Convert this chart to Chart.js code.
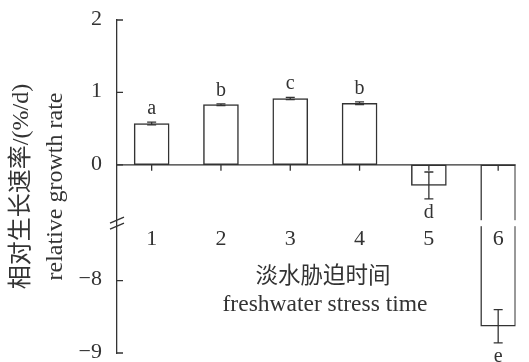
<!DOCTYPE html>
<html>
<head>
<meta charset="utf-8">
<script src="https://cdn.jsdelivr.net/npm/chart.js@4.4.0/dist/chart.umd.min.js"></script>
<style>
  html, body { margin: 0; padding: 0; background: #fff; overflow: hidden; }
  #wrap { width: 529px; height: 362px; }
</style>
</head>
<body>
<div id="wrap"><canvas id="c"></canvas></div>
<script>
// ── Data ─────────────────────────────────────────────────
const categories   = ['1', '2', '3', '4', '5', '6'];
const growthRate   = [0.57, 0.83, 0.915, 0.85, -0.285, -8.63];
const growthErr    = [0.02, 0.012, 0.015, 0.02, 0.185, 0.23];
const groupLetters = ['a', 'b', 'c', 'b', 'd', 'e'];
const yTickValues  = [2, 1, 0, -8, -9];
const yTickLabels  = ['2', '1', '0', '−8', '−9'];

// broken y axis: everything below the break is shifted up by SHIFT
const SHIFT = 6.4;
const BREAK_AT = -0.807;
const toV = v => (v < -4 ? v + SHIFT : v);

const INK = '#333';
const SERIF = "'Liberation Serif', 'Noto Sans CJK SC', serif";

const extras = {
    id: 'extras',
    afterDatasetsDraw(chart) {
        const { ctx, scales: { x, y } } = chart;
        const bars = chart.getDatasetMeta(0).data;
        const y0 = y.getPixelForValue(0);
        ctx.save();
        ctx.strokeStyle = INK;
        ctx.fillStyle = INK;
        ctx.lineWidth = 1.3;

        // zero line + tick marks
        ctx.beginPath();
        ctx.moveTo(x.left, y0);
        ctx.lineTo(bars[bars.length - 1].x + bars[0].width / 2, y0);
        bars.forEach(b => { ctx.moveTo(b.x, y0); ctx.lineTo(b.x, y0 + 6); });
        ctx.stroke();

        // gap in bar 6 at the break
        const yb = y.getPixelForValue(BREAK_AT);
        const b6 = bars[5];
        ctx.fillStyle = '#fff';
        ctx.fillRect(b6.x - b6.width / 2 - 3, yb - 3, b6.width + 6, 6);
        ctx.fillStyle = INK;

        // error bars + letters
        ctx.font = '20px ' + SERIF;
        ctx.textAlign = 'center';
        growthRate.forEach((v, i) => {
            const b = bars[i];
            const hi = y.getPixelForValue(toV(v + growthErr[i]));
            const lo = y.getPixelForValue(toV(v - growthErr[i]));
            ctx.beginPath();
            ctx.moveTo(b.x, hi); ctx.lineTo(b.x, lo);
            ctx.moveTo(b.x - 4.5, hi); ctx.lineTo(b.x + 4.5, hi);
            ctx.moveTo(b.x - 4.5, lo); ctx.lineTo(b.x + 4.5, lo);
            ctx.stroke();
            ctx.textBaseline = 'alphabetic';
            if (v >= 0) ctx.fillText(groupLetters[i], b.x, hi - 8);
            else ctx.fillText(groupLetters[i], b.x, lo + 19);
        });

        // x tick labels
        ctx.font = '22px ' + SERIF;
        categories.forEach((c, i) => ctx.fillText(c, bars[i].x, 245));

        // x title
        ctx.font = "22.5px 'Noto Sans CJK SC', sans-serif";
        ctx.textBaseline = 'middle';
        ctx.fillText('淡水胁迫时间', 323, 274);
        ctx.font = '23.5px ' + SERIF;
        ctx.textBaseline = 'alphabetic';
        ctx.fillText('freshwater stress time', 325, 311);

        // inward y ticks + labels
        ctx.font = '22px ' + SERIF;
        ctx.textAlign = 'right';
        ctx.textBaseline = 'middle';
        ctx.beginPath();
        yTickValues.forEach((t, i) => {
            const py = y.getPixelForValue(toV(t));
            ctx.moveTo(x.left, py); ctx.lineTo(x.left + 6, py);
            ctx.fillText(yTickLabels[i], x.left - 15, py - 1);
        });
        ctx.stroke();

        // break marks
        ctx.beginPath();
        [-3, 3].forEach(d => {
            ctx.moveTo(x.left - 7, yb + d + 3);
            ctx.lineTo(x.left + 7, yb + d - 3);
        });
        ctx.stroke();
        ctx.restore();
    }
};

new Chart(document.getElementById('c'), {
    type: 'bar',
    data: {
        datasets: [{
            data: growthRate.map((v, i) => ({ x: i + 1, y: toV(v) })),
            backgroundColor: '#fff',
            borderColor: INK,
            borderWidth: 1.5,
            borderSkipped: false,
            barThickness: 35
        }]
    },
    plugins: [extras],
    options: {
        responsive: true, maintainAspectRatio: false, animation: false,
        layout: { padding: { top: 20, right: 13.5, bottom: 9, left: 0 } },
        plugins: { legend: { display: false }, tooltip: { enabled: false } },
        scales: {
            x: {
                type: 'linear', min: 0.5, max: 6.25, offset: false,
                display: false
            },
            y: {
                min: toV(-9), max: 2,
                afterFit(scale) { scale.width = 117; },
                grid: { display: false, drawTicks: false },
                border: { display: true, color: INK, width: 1.3 },
                ticks: { display: false },
                title: {
                    display: true,
                    text: ['相对生长速率/(%/d)', 'relative growth rate'],
                    color: INK,
                    font: { family: SERIF, size: 24, lineHeight: 1.45 },
                    padding: { top: 4, bottom: 0 }
                }
            }
        }
    }
});
</script>
</body>
</html>
